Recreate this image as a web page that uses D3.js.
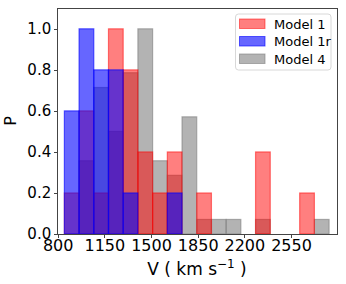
<!DOCTYPE html>
<html lang="en">
<head>
<meta charset="UTF-8">
<title>V histogram</title>
<style>
  body { margin: 0; background: #fff; }
  svg text { font-family: "DejaVu Sans", sans-serif; fill: #000; }
  .axis path, .axis line { stroke: #444; shape-rendering: crispEdges; }
</style>
</head>
<body>
<div id="chart"></div>
<script src="https://cdn.jsdelivr.net/npm/d3@7/dist/d3.min.js"></script>
<script>
// histogram bins (km/s), 18 equal bins
const binLow = 850;
const binWidth = 110.3;
const model1  = [0.2, 0.6, 0.2, 1.0, 0.8, 0.4, 0.2, 0.4, 0, 0.2, 0, 0, 0, 0.4, 0, 0, 0.2, 0];
const model1r = [0.6, 1.0, 0.8, 0.8, 0.2, 0, 0, 0.2, 0, 0, 0, 0, 0, 0, 0, 0, 0, 0];
const model4  = [0, 0.357, 0.714, 0.5, 0.786, 1.0, 0.357, 0.286, 0.571, 0.071, 0.071, 0.071, 0, 0.071, 0, 0, 0, 0.071];
const xTicks = [800, 1150, 1500, 1850, 2200, 2550];
const yTicks = [0, 0.2, 0.4, 0.6, 0.8, 1.0];

const series = [
  { name: "Model 4", values: model4, color: "#808080", alpha: 0.6 },
  { name: "Model 1", values: model1, color: "#ff0000", alpha: 0.5 },
  { name: "Model 1r", values: model1r, color: "#0000ff", alpha: 0.6 }
];
const legendOrder = ["Model 1", "Model 1r", "Model 4"];

const W = 346, H = 284;
const m = { left: 57.7, right: 8.3, top: 8.3, bottom: 50 };

const svg = d3.select("#chart").append("svg")
  .attr("width", W).attr("height", H);

const x = d3.scaleLinear().domain([800, 2900]).range([m.left, W - m.right]);
const y = d3.scaleLinear().domain([0, 1.1]).range([H - m.bottom, m.top]);

series.forEach(s => {
  svg.append("g").selectAll("rect").data(s.values).enter().append("rect")
    .attr("x", (d, i) => x(binLow + i * binWidth))
    .attr("width", (d, i) => x(binLow + (i + 1) * binWidth) - x(binLow + i * binWidth))
    .attr("y", d => y(d))
    .attr("height", d => y(0) - y(d))
    .attr("fill", s.color).attr("fill-opacity", s.alpha)
    .attr("stroke", s.color).attr("stroke-opacity", s.alpha)
    .attr("stroke-width", 1.2);
});

// frame
svg.append("rect")
  .attr("x", m.left).attr("y", m.top)
  .attr("width", W - m.right - m.left).attr("height", H - m.bottom - m.top)
  .attr("fill", "none").attr("stroke", "#444").attr("stroke-width", 1)
  .attr("shape-rendering", "crispEdges");

const gx = svg.append("g").attr("class", "axis")
  .attr("transform", `translate(0,${H - m.bottom})`)
  .call(d3.axisBottom(x).tickValues(xTicks).tickSize(3.5).tickPadding(2).tickFormat(d3.format("d")));
gx.select(".domain").remove();
gx.selectAll("text").style("font-size", "16px");

const gy = svg.append("g").attr("class", "axis")
  .attr("transform", `translate(${m.left},0)`)
  .call(d3.axisLeft(y).tickValues(yTicks).tickSize(3.5).tickPadding(3).tickFormat(d3.format(".1f")));
gy.select(".domain").remove();
gy.selectAll("text").style("font-size", "15px");

// axis labels
const xl = svg.append("text")
  .attr("x", 197).attr("y", 275)
  .attr("text-anchor", "middle").style("font-size", "17px");
xl.append("tspan").text("V ( km s");
xl.append("tspan").attr("dy", -7).style("font-size", "12px").text("\u22121");
xl.append("tspan").attr("dy", 7).text(" )");

svg.append("text")
  .attr("transform", "translate(16,121) rotate(-90)")
  .attr("text-anchor", "middle").style("font-size", "16px")
  .text("P");

// legend
const lg = svg.append("g").attr("transform", "translate(235.5,14)");
lg.append("rect")
  .attr("width", 95.5).attr("height", 56).attr("rx", 3)
  .attr("fill", "#fff").attr("fill-opacity", 0.8)
  .attr("stroke", "#d8d8d8");
legendOrder.forEach((name, i) => {
  const s = series.find(d => d.name === name);
  const row = lg.append("g").attr("transform", `translate(0,${10 + i * 17.5})`);
  row.append("rect")
    .attr("x", 4).attr("y", -5).attr("width", 25.5).attr("height", 9.5)
    .attr("fill", s.color).attr("fill-opacity", s.alpha)
    .attr("stroke", s.color).attr("stroke-opacity", s.alpha);
  row.append("text")
    .attr("x", 38.5).attr("y", 4.5)
    .style("font-size", "13px")
    .text(name);
});
</script>
</body>
</html>
